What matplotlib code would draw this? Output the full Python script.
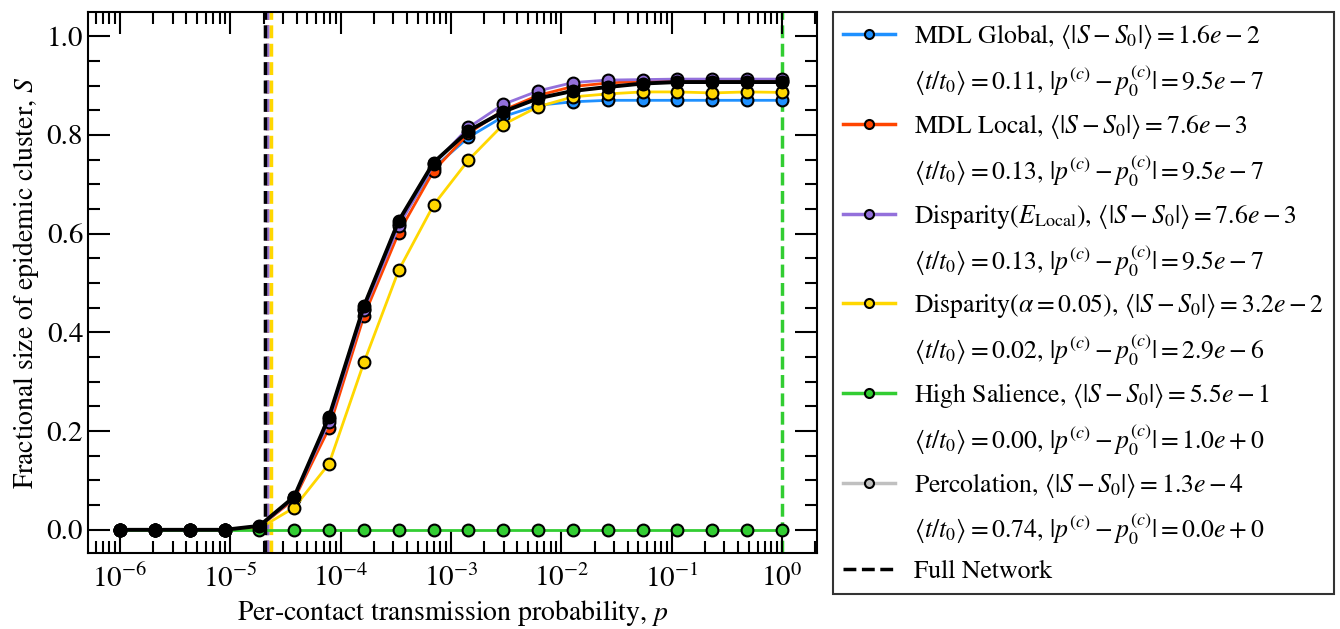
import numpy as np
import matplotlib
matplotlib.use("Agg")
import matplotlib.pyplot as plt
from matplotlib.lines import Line2D
from matplotlib.ticker import MultipleLocator, LogLocator, NullFormatter

plt.rcParams["font.family"] = "STIXGeneral"
plt.rcParams["mathtext.fontset"] = "stix"

# transmission probabilities (20 log-spaced points)
p = np.logspace(-6, 0, 20)

S_full = [0, 0, 0, 0, 0.008, 0.067, 0.229, 0.453, 0.626, 0.744, 0.808, 0.847,
          0.874, 0.889, 0.897, 0.904, 0.907, 0.907, 0.907, 0.907]
S_mdl_global = [0, 0, 0, 0, 0.006, 0.064, 0.225, 0.448, 0.620, 0.733, 0.795, 0.837,
                0.860, 0.867, 0.870, 0.870, 0.870, 0.870, 0.870, 0.870]
S_mdl_local = [0, 0, 0, 0, 0.006, 0.062, 0.206, 0.433, 0.602, 0.727, 0.803, 0.850,
               0.880, 0.898, 0.905, 0.909, 0.910, 0.910, 0.910, 0.910]
S_disp_local = [0, 0, 0, 0, 0.006, 0.065, 0.219, 0.445, 0.615, 0.740, 0.815, 0.862,
                0.889, 0.906, 0.911, 0.912, 0.913, 0.913, 0.913, 0.913]
S_disp_alpha = [0, 0, 0, 0, 0.003, 0.045, 0.134, 0.339, 0.526, 0.658, 0.749, 0.821,
                0.857, 0.877, 0.883, 0.887, 0.887, 0.885, 0.887, 0.886]
S_salience = [0] * 20
S_percolation = S_full

# epidemic thresholds
pc_full = 2.05e-5
pc_mdl_global = pc_full + 9.5e-7
pc_mdl_local = pc_full + 9.5e-7
pc_disp_local = pc_full + 9.5e-7
pc_disp_alpha = pc_full + 2.9e-6
pc_salience = 1.0
pc_percolation = pc_full

xticks = [1e-6, 1e-5, 1e-4, 1e-3, 1e-2, 1e-1, 1e0]

labels = [
    r"MDL Global, $\langle|S-S_0|\rangle=1.6e-2$",
    r"MDL Local, $\langle|S-S_0|\rangle=7.6e-3$",
    r"Disparity($E_{\mathrm{Local}}$), $\langle|S-S_0|\rangle=7.6e-3$",
    r"Disparity($\alpha=0.05$), $\langle|S-S_0|\rangle=3.2e-2$",
    r"High Salience, $\langle|S-S_0|\rangle=5.5e-1$",
    r"Percolation, $\langle|S-S_0|\rangle=1.3e-4$",
]
second_lines = [
    r"$\langle t/t_0\rangle=0.11$, $|p^{(c)}-p_0^{(c)}|=9.5e-7$",
    r"$\langle t/t_0\rangle=0.13$, $|p^{(c)}-p_0^{(c)}|=9.5e-7$",
    r"$\langle t/t_0\rangle=0.13$, $|p^{(c)}-p_0^{(c)}|=9.5e-7$",
    r"$\langle t/t_0\rangle=0.02$, $|p^{(c)}-p_0^{(c)}|=2.9e-6$",
    r"$\langle t/t_0\rangle=0.00$, $|p^{(c)}-p_0^{(c)}|=1.0e+0$",
    r"$\langle t/t_0\rangle=0.74$, $|p^{(c)}-p_0^{(c)}|=0.0e+0$",
]
colors = ["#1E90FF", "#FF4500", "#9370DB", "#FFD700", "#32CD32", "#C0C0C0"]
series = [S_mdl_global, S_mdl_local, S_disp_local, S_disp_alpha, S_salience, S_percolation]
thresholds = [pc_mdl_global, pc_mdl_local, pc_disp_local, pc_disp_alpha, pc_salience, pc_percolation]

fig = plt.figure(figsize=(13.4, 6.29), dpi=100)
ax = fig.add_axes([0.0657, 0.1208, 0.544, 0.8602])

handles = []
for S, pc, c, lab, lab2 in zip(series, thresholds, colors, labels, second_lines):
    ax.plot(p, S, "-o", color=c, lw=2, ms=8.5, mec="black", mew=1.5, zorder=2)
    ax.axvline(pc, color=c, ls="--", lw=2.5, zorder=1)
    handles.append(Line2D([], [], color=c, lw=2.5, marker="o", ms=6.5, mfc=c,
                          mec="black", mew=1.5, label=lab))
    handles.append(Line2D([], [], color="none", label=lab2))

ax.plot(p, S_full, "-o", color="black", lw=2.8, ms=8.5, mec="black", zorder=3)
ax.axvline(pc_full, color="black", ls="--", lw=2.5, zorder=3)
handles.append(Line2D([], [], color="black", ls="--", lw=2.5, label="Full Network"))

ax.set_xscale("log")
ax.set_xlim(10 ** -6.29, 10 ** 0.317)
ax.set_ylim(-0.047, 1.049)
ax.set_xticks(xticks)
ax.xaxis.set_minor_locator(LogLocator(base=10, subs=np.arange(2, 10), numticks=20))
ax.xaxis.set_minor_formatter(NullFormatter())
ax.yaxis.set_major_locator(MultipleLocator(0.2))
ax.yaxis.set_minor_locator(MultipleLocator(0.05))
ax.tick_params(which="both", direction="in", top=True, right=True, labelsize=21, width=1.5)
ax.tick_params(which="major", length=16)
ax.tick_params(which="minor", length=8.5)
ax.tick_params(axis="x", which="major", pad=8)
for sp in ax.spines.values():
    sp.set_linewidth(1.5)

ax.set_xlabel(r"Per-contact transmission probability, $p$", fontsize=20, labelpad=4)
ax.set_ylabel(r"Fractional size of epidemic cluster, $S$", fontsize=20, labelpad=4)

leg = fig.legend(handles=handles, loc="upper left", bbox_to_anchor=(833 / 1340, 1 - 12 / 629),
                 fontsize=18.5, frameon=True, fancybox=False, edgecolor="black",
                 handlelength=2.0, handletextpad=0.74, labelspacing=0.495,
                 borderpad=0.4, borderaxespad=0)
leg.get_frame().set_linewidth(1.5)

fig.savefig("out.png", dpi=100)
